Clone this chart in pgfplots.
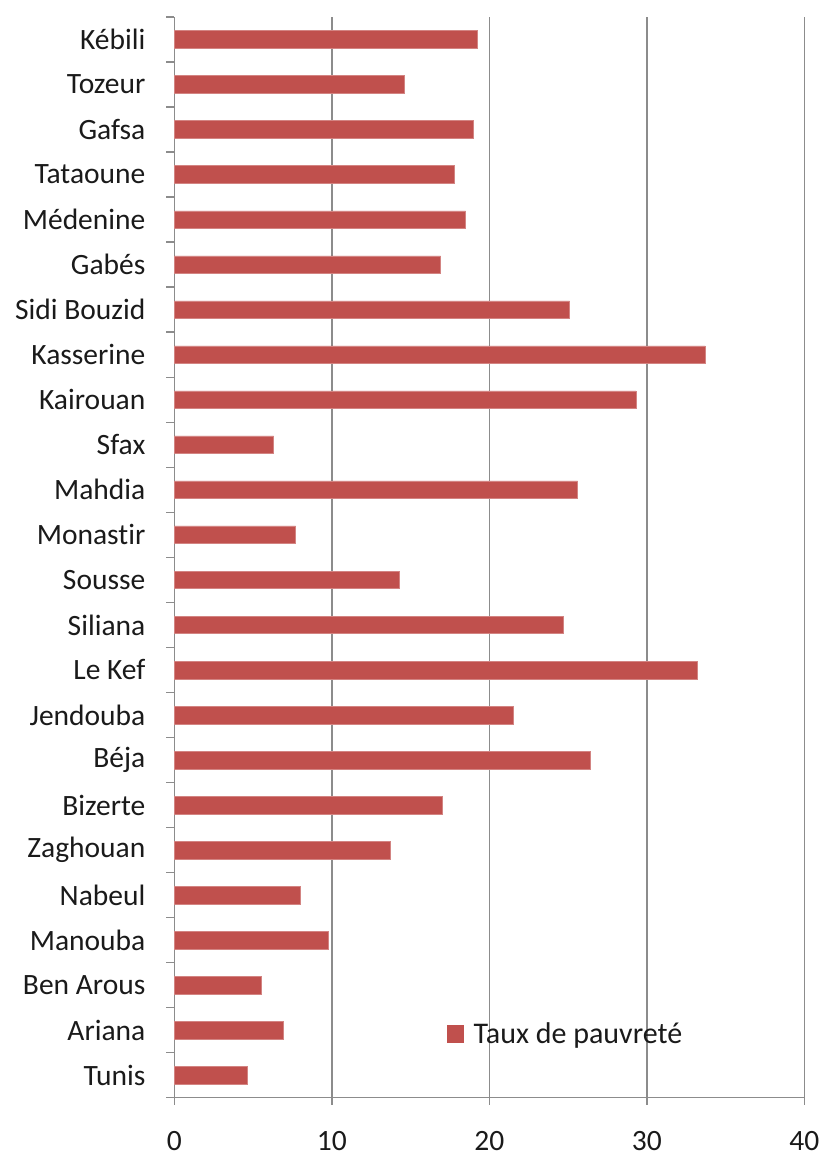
\documentclass[border=0pt]{standalone}
\usepackage{fontspec}
\setmainfont[Ligatures={NoCommon}]{Carlito}
\usepackage{pgfplots}
\pgfplotsset{compat=1.18}
\usepackage{pgfplotstable}
\definecolor{barred}{HTML}{C0504D}
\definecolor{gridgray}{HTML}{8C8C8C}
\definecolor{txt}{HTML}{1A1A1A}
\pgfplotstableread{
y val
0 4.6
1 6.9
2 5.5
3 9.8
4 8.0
5 13.7
6 17.0
7 26.4
8 21.5
9 33.2
10 24.7
11 14.3
12 7.7
13 25.6
14 6.3
15 29.3
16 33.7
17 25.1
18 16.9
19 18.5
20 17.8
21 19.0
22 14.6
23 19.2
}\datatable
\begin{document}
\begin{tikzpicture}
\begin{axis}[
  at={(0pt,0pt)}, anchor=south west,
  scale only axis,
  width=629.9pt, height=1080.7pt,
  xmin=0, xmax=40,
  ymin=-0.5, ymax=23.5,
  xtick={0,10,20,30,40},
  ytick={0,...,23},
  yticklabels={Tunis,Ariana,Ben Arous,Manouba,Nabeul,Zaghouan,Bizerte,Béja,Jendouba,Le Kef,Siliana,Sousse,Monastir,Mahdia,Sfax,Kairouan,Kasserine,Sidi Bouzid,Gabés,Médenine,Tataoune,Gafsa,Tozeur,Kébili},
  minor ytick={-0.5,0.5,...,23.5},
  axis lines*=left,
  axis line style={gridgray, line width=1.4pt},
  tick align=outside,
  major tick length=7pt,
  minor tick length=8pt,
  major y tick style={draw=none},
  minor y tick style={gridgray, line width=1.4pt},
  major x tick style={gridgray, line width=1.4pt},
  xmajorgrids,
  major grid style={gridgray, line width=1.4pt},
  /pgf/number format/assume math mode=true,
  ticklabel style={font=\fontsize{29.5}{34}\selectfont, text=txt},
  yticklabel style={xshift=-18.5pt},
  xticklabel style={yshift=-23pt},
  clip=false,
  legend style={draw=none, fill=none, at={(0.4328,0.0595)}, anchor=west,
    font=\fontsize{30}{34}\selectfont, text=txt, inner sep=0pt},
  legend image code/.code={\fill[barred] (0pt,-8.5pt) rectangle (16pt,8.5pt); \path (24pt,0pt);},
]
\addplot[xbar, bar width=17.7pt, fill=barred, draw=barred!70!white, line width=0.5pt] table[x=val, y=y] {\datatable};
\addlegendentry{Taux de pauvreté}
\end{axis}
\pgfresetboundingbox
\path (-174.4pt,-60.3pt) rectangle (645.6pt,1097.7pt);
\end{tikzpicture}
\end{document}
